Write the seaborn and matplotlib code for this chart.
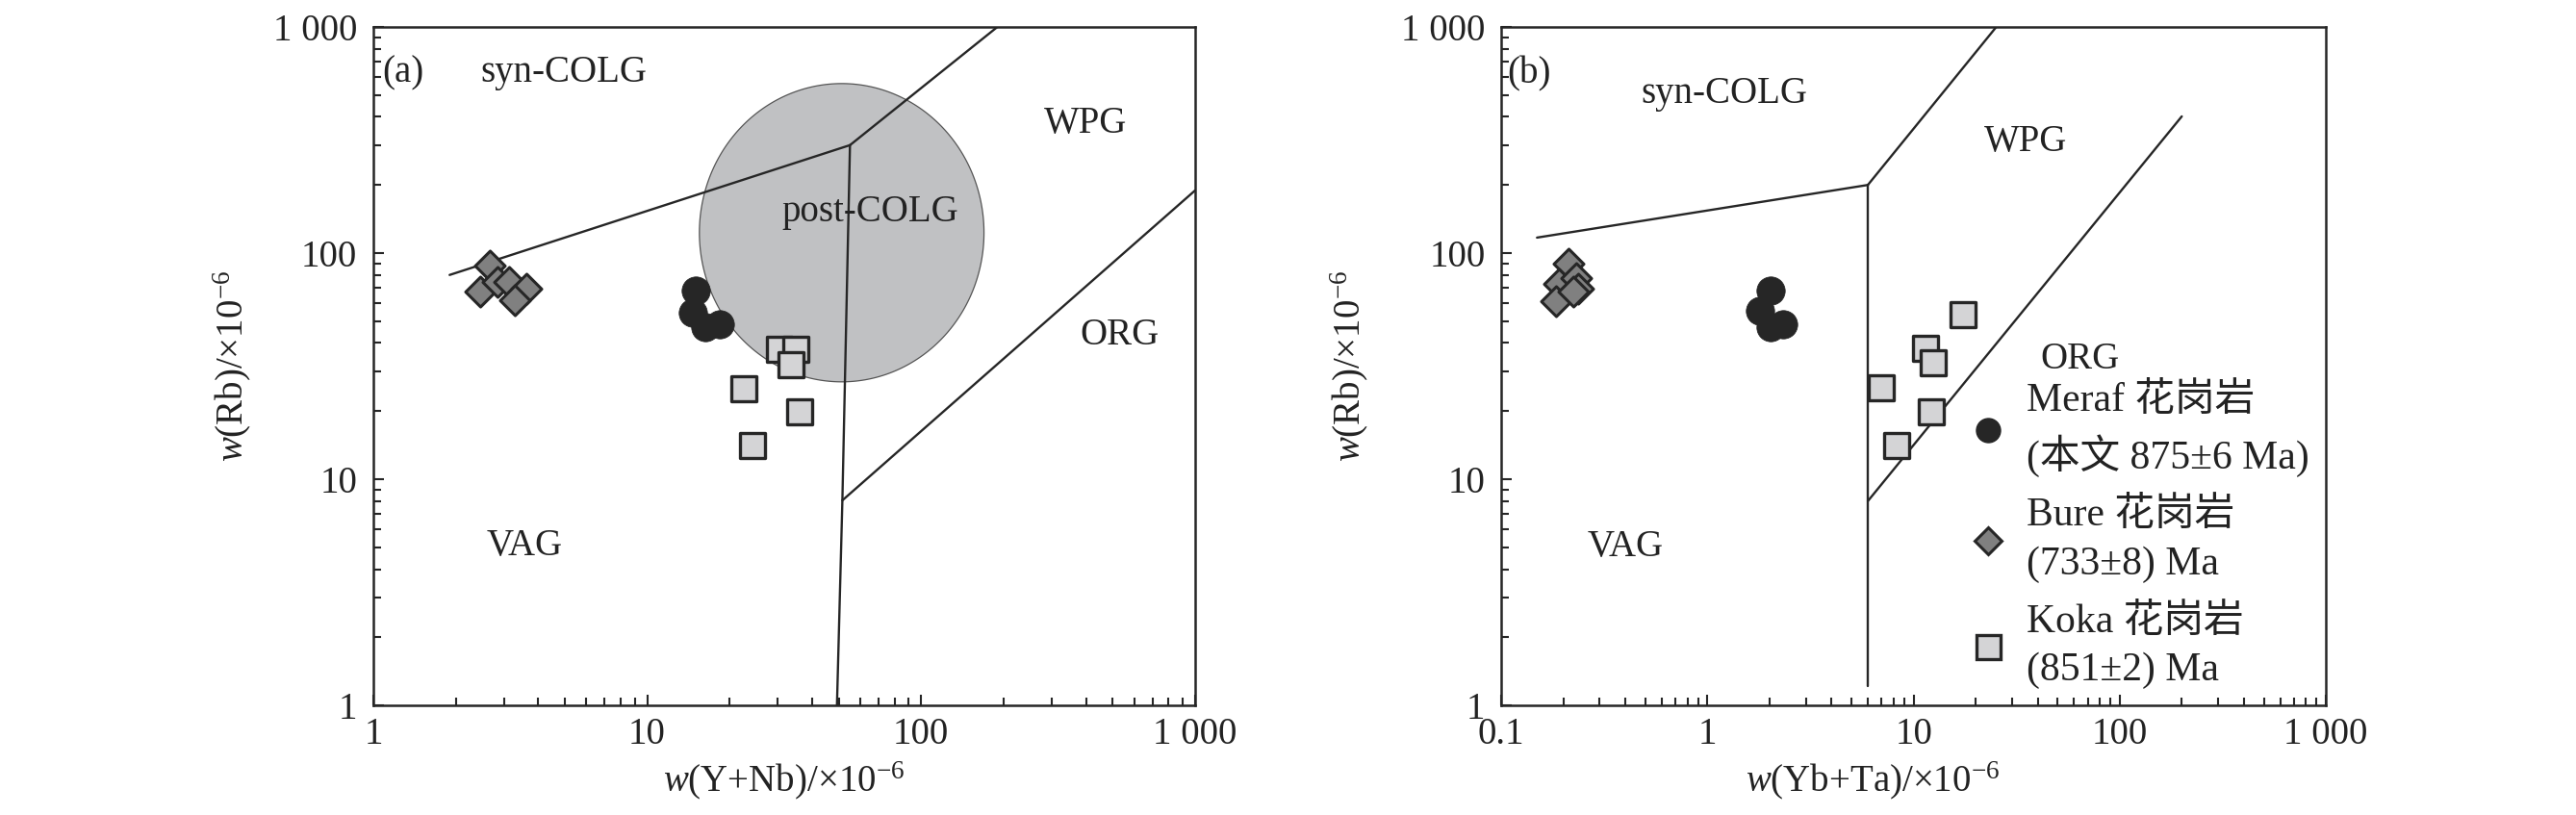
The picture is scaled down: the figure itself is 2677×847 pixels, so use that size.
import numpy as np
import pandas as pd
import seaborn as sns
import matplotlib.pyplot as plt
from matplotlib.lines import Line2D
from matplotlib.ticker import FixedLocator, LogLocator, NullFormatter

sns.set_theme(style='ticks')
plt.rcParams['font.family'] = ['Liberation Serif', 'Noto Sans CJK SC']
plt.rcParams['mathtext.fontset'] = 'custom'
plt.rcParams['mathtext.rm'] = 'Liberation Serif'
plt.rcParams['mathtext.it'] = 'Liberation Serif:italic'

# ---- data: panel (a) Rb vs Y+Nb ----
a_bure_x = [2.66, 2.46, 2.83, 3.14, 3.61, 3.28]
a_bure_y = [88, 67.8, 74.3, 74.7, 69.6, 62]
a_meraf_x = [15.0, 14.7, 16.3, 18.4]
a_meraf_y = [68.4, 54.5, 47, 48.6]
a_koka_x = [30.4, 34.8, 33.4, 22.6, 36.0, 24.3]
a_koka_y = [37.6, 37.6, 32, 25.1, 19.9, 14.1]

# ---- data: panel (b) Rb vs Yb+Ta ----
b_bure_x = [0.212, 0.190, 0.232, 0.237, 0.184, 0.224]
b_bure_y = [89.5, 73, 77.3, 69.6, 61.1, 67.4]
b_meraf_x = [2.02, 1.79, 2.03, 2.33]
b_meraf_y = [68.4, 55.4, 47, 48.6]
b_koka_x = [17.4, 11.4, 12.4, 7.0, 12.2, 8.3]
b_koka_y = [53.6, 38, 32.8, 25.3, 19.9, 14.1]

# discrimination boundaries (Pearce et al. 1984)
a_lines = [
    ([1.9, 55], [80, 300]),
    ([55, 190], [300, 1000]),
    ([55, 51.6, 49.3], [300, 8.06, 1]),
    ([51.6, 1000], [8.06, 189]),
]
b_lines = [
    ([0.149, 6], [117, 200]),
    ([6, 25.2], [200, 1000]),
    ([6, 6], [200, 1.22]),
    ([6, 200], [8, 402]),
]
# post-COLG field (log10 centre and half axes)
ell_cx, ell_cy = np.log10(51.3), np.log10(123)
ell_a, ell_b = 0.5195, 0.6595

a_labels = [('(a)', 1.08, 572, 'left'), ('syn-COLG', 4.97, 572, 'center'),
            ('WPG', 399, 340, 'center'), ('post-COLG', 65, 138, 'center'),
            ('ORG', 530, 39.4, 'center'), ('VAG', 3.56, 4.6, 'center')]
b_labels = [('(b)', 0.107, 562, 'left'), ('syn-COLG', 1.21, 461, 'center'),
            ('WPG', 35, 283, 'center'), ('ORG', 64, 31, 'center'),
            ('VAG', 0.40, 4.57, 'center')]

legend_labels = ['Meraf 花岗岩\n(本文 875±6 Ma)', 'Bure 花岗岩\n(733±8) Ma', 'Koka 花岗岩\n(851±2) Ma']

ylabel = r'$w$(Rb)/×10$^{-6}$'
a_xlabel = r'$w$(Y+Nb)/×10$^{-6}$'
b_xlabel = r'$w$(Yb+Ta)/×10$^{-6}$'
y_ticks = [1, 10, 100, 1000]
y_ticklabels = ['1', '10', '100', '1 000']
a_xticks = [1, 10, 100, 1000]
a_xticklabels = ['1', '10', '100', '1 000']
b_xticks = [0.1, 1, 10, 100, 1000]
b_xticklabels = ['0.1', '1', '10', '100', '1 000']

dark = '#262626'
fs = 28

fig = plt.figure(figsize=(26.77, 8.47), dpi=100)
ax_a = fig.add_axes([0.1449, 0.1346, 0.3190, 0.8324])
ax_b = fig.add_axes([0.5828, 0.1346, 0.3201, 0.8324])


def draw_points(ax, mx, my, bx, by, kx, ky):
    sns.scatterplot(x=mx, y=my, ax=ax, marker='o', s=450, color=dark,
                    edgecolor=dark, linewidth=0.5, zorder=4, legend=False)
    sns.scatterplot(x=bx, y=by, ax=ax, marker='D', s=250, color='#808080',
                    edgecolor=dark, linewidth=2.2, zorder=4, legend=False)
    sns.scatterplot(x=kx, y=ky, ax=ax, marker='s', s=330, color='#d4d4d6',
                    edgecolor=dark, linewidth=2.4, zorder=4, legend=False)


def style_axes(ax, xlim, xticks, xticklabels, xlabel, xlabel_x, ylabel_x):
    ax.set_xscale('log')
    ax.set_yscale('log')
    ax.set_xlim(*xlim)
    ax.set_ylim(1, 1000)
    ax.xaxis.set_major_locator(FixedLocator(xticks))
    ax.set_xticklabels(xticklabels)
    ax.yaxis.set_major_locator(FixedLocator(y_ticks))
    ax.set_yticklabels(y_ticklabels)
    for axis in (ax.xaxis, ax.yaxis):
        axis.set_minor_locator(LogLocator(base=10, subs=np.arange(2, 10)))
        axis.set_minor_formatter(NullFormatter())
    ax.tick_params(which='both', direction='in', width=1.5, colors=dark,
                   labelsize=fs, labelcolor='#222222', top=False, right=False)
    ax.tick_params(which='major', length=8)
    ax.tick_params(which='minor', length=5.5)
    ax.tick_params(axis='x', pad=9)
    ax.tick_params(axis='y', pad=12)
    for sp in ax.spines.values():
        sp.set_linewidth(1.8)
        sp.set_color(dark)
        sp.set_visible(True)
    ax.set_xlabel(xlabel, fontsize=fs, color='#222222')
    ax.set_ylabel(ylabel, fontsize=fs, color='#222222')
    ax.xaxis.set_label_coords(xlabel_x, -0.08)
    ax.yaxis.set_label_coords(ylabel_x, 0.5)


# ---- panel (a) ----
t = np.linspace(0, 2 * np.pi, 300)
ax_a.fill(10 ** (ell_cx + ell_a * np.cos(t)), 10 ** (ell_cy + ell_b * np.sin(t)),
          facecolor='#c0c1c3', edgecolor='#555555', linewidth=0.9, zorder=1)
for xs, ys in a_lines:
    ax_a.plot(xs, ys, color=dark, linewidth=1.7, zorder=2)
draw_points(ax_a, a_meraf_x, a_meraf_y, a_bure_x, a_bure_y, a_koka_x, a_koka_y)
for txt, x, y, ha in a_labels:
    ax_a.text(x, y, txt, fontsize=fs, ha=ha, va='baseline', color='#222222', zorder=3)
style_axes(ax_a, (1, 1000), a_xticks, a_xticklabels, a_xlabel, 0.5, -0.146)

# ---- panel (b) ----
for xs, ys in b_lines:
    ax_b.plot(xs, ys, color=dark, linewidth=1.7, zorder=2)
draw_points(ax_b, b_meraf_x, b_meraf_y, b_bure_x, b_bure_y, b_koka_x, b_koka_y)
for txt, x, y, ha in b_labels:
    ax_b.text(x, y, txt, fontsize=fs, ha=ha, va='baseline', color='#222222', zorder=3)
style_axes(ax_b, (0.1, 1000), b_xticks, b_xticklabels, b_xlabel, 0.45, -0.159)

handles = [
    Line2D([], [], linestyle='none', marker='o', markersize=18, color=dark, markeredgecolor=dark),
    Line2D([], [], linestyle='none', marker='D', markersize=14, color='#808080',
           markeredgecolor=dark, markeredgewidth=2.2),
    Line2D([], [], linestyle='none', marker='s', markersize=18, color='#d4d4d6',
           markeredgecolor=dark, markeredgewidth=2.4),
]
leg = ax_b.legend(handles, legend_labels, loc='lower left', bbox_to_anchor=(0.537, -0.012),
                  frameon=False, fontsize=30, handlelength=1.0, handletextpad=0.45,
                  labelspacing=0.5, borderaxespad=0.2)
for txt in leg.get_texts():
    txt.set_color('#222222')
    txt.set_linespacing(1.42)

fig.savefig('out.png', dpi=100)
